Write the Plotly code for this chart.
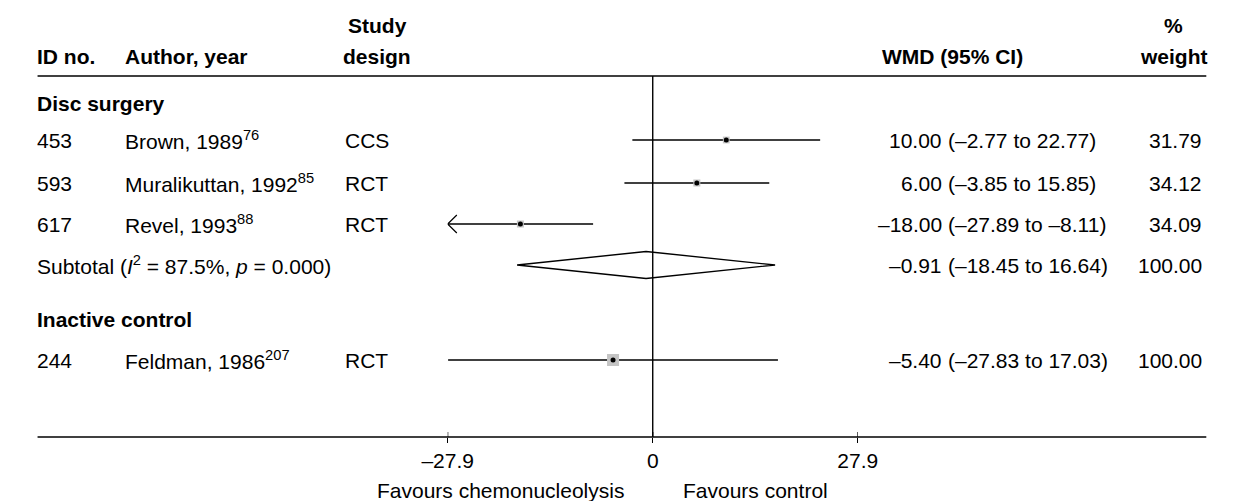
import math
import plotly.graph_objects as go

# ---- study data -------------------------------------------------------------
ids = ["453", "593", "617", "244"]
authors = ["Brown, 1989", "Muralikuttan, 1992", "Revel, 1993", "Feldman, 1986"]
refs = ["76", "85", "88", "207"]
designs = ["CCS", "RCT", "RCT", "RCT"]
groups = ["Disc surgery", "Disc surgery", "Disc surgery", "Inactive control"]
wmd = [10.00, 6.00, -18.00, -5.40]
ci_low = [-2.77, -3.85, -27.89, -27.83]
ci_high = [22.77, 15.85, -8.11, 17.03]
weights = [31.79, 34.12, 34.09, 100.00]

# pooled estimate for the disc surgery subgroup
sub_group = "Disc surgery"
sub_label = "Subtotal (<i>I</i><sup>2</sup> = 87.5%, <i>p</i> = 0.000)"
sub_wmd = -0.91
sub_low = -18.45
sub_high = 16.64
sub_weight = 100.00

favour_left = "Favours chemonucleolysis"
favour_right = "Favours control"

# ---- layout constants (pixels) ---------------------------------------------
W, H = 1234, 501
FONT = "Liberation Sans, Arial, Helvetica, sans-serif"
FS = 21
PLOT_X0, PLOT_X1 = 438, 864          # pixel span of the symmetric x scale
LINE_L, LINE_R = 12, 1226            # horizontal rules
HEADER_RULE_Y = 76
AXIS_Y = 437
COL_ID, COL_AUTHOR, COL_DESIGN = 11, 103, 331
COL_DESIGN_HEAD = 365
COL_EST_RIGHT, COL_CI_LEFT = 951, 958
COL_WMD_HEAD = 962
COL_WEIGHT_RIGHT, COL_WEIGHT_HEAD = 1222, 1192
HEAD_Y1, HEAD_Y2 = 25, 56
# vertical position of each printed line, top to bottom
ROW_Y = [103, 140, 183, 224, 265, 319, 360]
DIAMOND_HALF = 13.5
MAX_BOX = 12.0

# x scale symmetric about zero, set by the widest interval
x_lim = max(abs(v) for v in ci_low + ci_high + [sub_low, sub_high])
x_ticks = [-x_lim, 0, x_lim]


def fmt(v, nd=2):
    return f"{v:.{nd}f}".replace("-", "\u2013")


x_ticktext = [fmt(t, 1) if t != 0 else "0" for t in x_ticks]
px_per_unit = (PLOT_X1 - PLOT_X0) / (2 * x_lim)


def px(x):
    return x / W


fig = go.Figure()
ann = []
shapes = []


def text(x, y, s, anchor="left", bold=False, xref="paper", xshift=0):
    ann.append(dict(
        x=x, y=y, xref=xref, yref="y", text=f"<b>{s}</b>" if bold else s,
        showarrow=False, xanchor=anchor, yanchor="middle", xshift=xshift,
        borderpad=0, borderwidth=0,
        font=dict(family=FONT, size=FS, color="black"),
    ))


def hline(y, x0, x1, width=1.4):
    shapes.append(dict(type="line", xref="paper", yref="y", x0=x0, x1=x1,
                       y0=y, y1=y, line=dict(color="black", width=width)))


# column headings
text(px(COL_ID), HEAD_Y2, "ID no.", bold=True)
text(px(COL_AUTHOR), HEAD_Y2, "Author, year", bold=True)
text(px(COL_DESIGN_HEAD), HEAD_Y1, "Study", "center", bold=True)
text(px(COL_DESIGN_HEAD), HEAD_Y2, "design", "center", bold=True)
text(px(COL_WMD_HEAD), HEAD_Y2, "WMD (95% CI)", "center", bold=True)
text(px(COL_WEIGHT_HEAD), HEAD_Y1, "%", "center", bold=True)
text(px(COL_WEIGHT_HEAD), HEAD_Y2, "weight", "center", bold=True)
hline(HEADER_RULE_Y, px(LINE_L), px(LINE_R))
hline(AXIS_Y, px(LINE_L), px(LINE_R))


def estimate_text(y, est, lo, hi, w):
    text(px(COL_EST_RIGHT), y, fmt(est), "right")
    text(px(COL_CI_LEFT), y, f"({fmt(lo)} to {fmt(hi)})", "left")
    text(px(COL_WEIGHT_RIGHT), y, fmt(w), "right")


row = 0
seen = []
for i in range(len(ids)):
    g = groups[i]
    if g not in seen:
        seen.append(g)
        text(px(COL_ID), ROW_Y[row], g, bold=True)
        row += 1
    y = ROW_Y[row]
    text(px(COL_ID), y, ids[i])
    text(px(COL_AUTHOR), y, f"{authors[i]}<sup>{refs[i]}</sup>")
    text(px(COL_DESIGN), y, designs[i])
    estimate_text(y, wmd[i], ci_low[i], ci_high[i], weights[i])

    # confidence interval, with an arrow where it runs off the scale
    lo = max(ci_low[i], -x_lim)
    hi = min(ci_high[i], x_lim)
    fig.add_trace(go.Scatter(x=[lo, hi], y=[y, y], mode="lines",
                             line=dict(color="black", width=1.4),
                             hoverinfo="skip"))
    if ci_low[i] <= -x_lim:
        dx = 9.5 / px_per_unit
        fig.add_trace(go.Scatter(x=[-x_lim + dx, -x_lim, -x_lim + dx],
                                 y=[y - 9, y, y + 9], mode="lines",
                                 line=dict(color="black", width=1.2),
                                 hoverinfo="skip"))
    # weight box (area proportional to weight) and point estimate
    box = MAX_BOX * math.sqrt(weights[i] / 100.0)
    fig.add_trace(go.Scatter(x=[wmd[i]], y=[y], mode="markers",
                             marker=dict(symbol="square", size=box,
                                         color="#c4c4c4", line=dict(width=0)),
                             cliponaxis=False, hoverinfo="skip"))
    fig.add_trace(go.Scatter(x=[wmd[i]], y=[y], mode="markers",
                             marker=dict(symbol="circle", size=5, color="black"),
                             cliponaxis=False, hoverinfo="skip"))
    row += 1

    last_in_group = i == len(ids) - 1 or groups[i + 1] != g
    if last_in_group and g == sub_group:
        y = ROW_Y[row]
        text(px(COL_ID), y, sub_label)
        estimate_text(y, sub_wmd, sub_low, sub_high, sub_weight)
        fig.add_trace(go.Scatter(
            x=[sub_low, sub_wmd, sub_high, sub_wmd, sub_low],
            y=[y, y - DIAMOND_HALF, y, y + DIAMOND_HALF, y],
            mode="lines", line=dict(color="black", width=1.4),
            hoverinfo="skip"))
        row += 1

# line of no effect
shapes.append(dict(type="line", xref="x", yref="y", x0=0, x1=0,
                   y0=HEADER_RULE_Y, y1=AXIS_Y,
                   line=dict(color="black", width=1.4)))
# upper halves of the tick marks (lower halves come from the axis)
for t in x_ticks:
    shapes.append(dict(type="line", xref="x", yref="y", x0=t, x1=t,
                       y0=AXIS_Y - 5, y1=AXIS_Y,
                       line=dict(color="black", width=1.2)))

text(0, 490, favour_left, "right", xref="x", xshift=-29)
text(0, 490, favour_right, "left", xref="x", xshift=30)

fig.update_layout(
    width=W, height=H, margin=dict(l=0, r=0, t=0, b=0),
    paper_bgcolor="white", plot_bgcolor="white", showlegend=False,
    annotations=ann, shapes=shapes,
    xaxis=dict(domain=[PLOT_X0 / W, PLOT_X1 / W], range=[-x_lim, x_lim],
               showgrid=False, zeroline=False, showline=False,
               anchor="free", position=1 - AXIS_Y / H,
               tickvals=x_ticks, ticktext=x_ticktext, ticks="outside",
               ticklen=5, tickwidth=1.2, tickcolor="black",
               tickfont=dict(family=FONT, size=FS, color="black"),
               fixedrange=True),
    yaxis=dict(domain=[0, 1], range=[H, 0], visible=False, fixedrange=True),
)

fig.write_html("out.html")
